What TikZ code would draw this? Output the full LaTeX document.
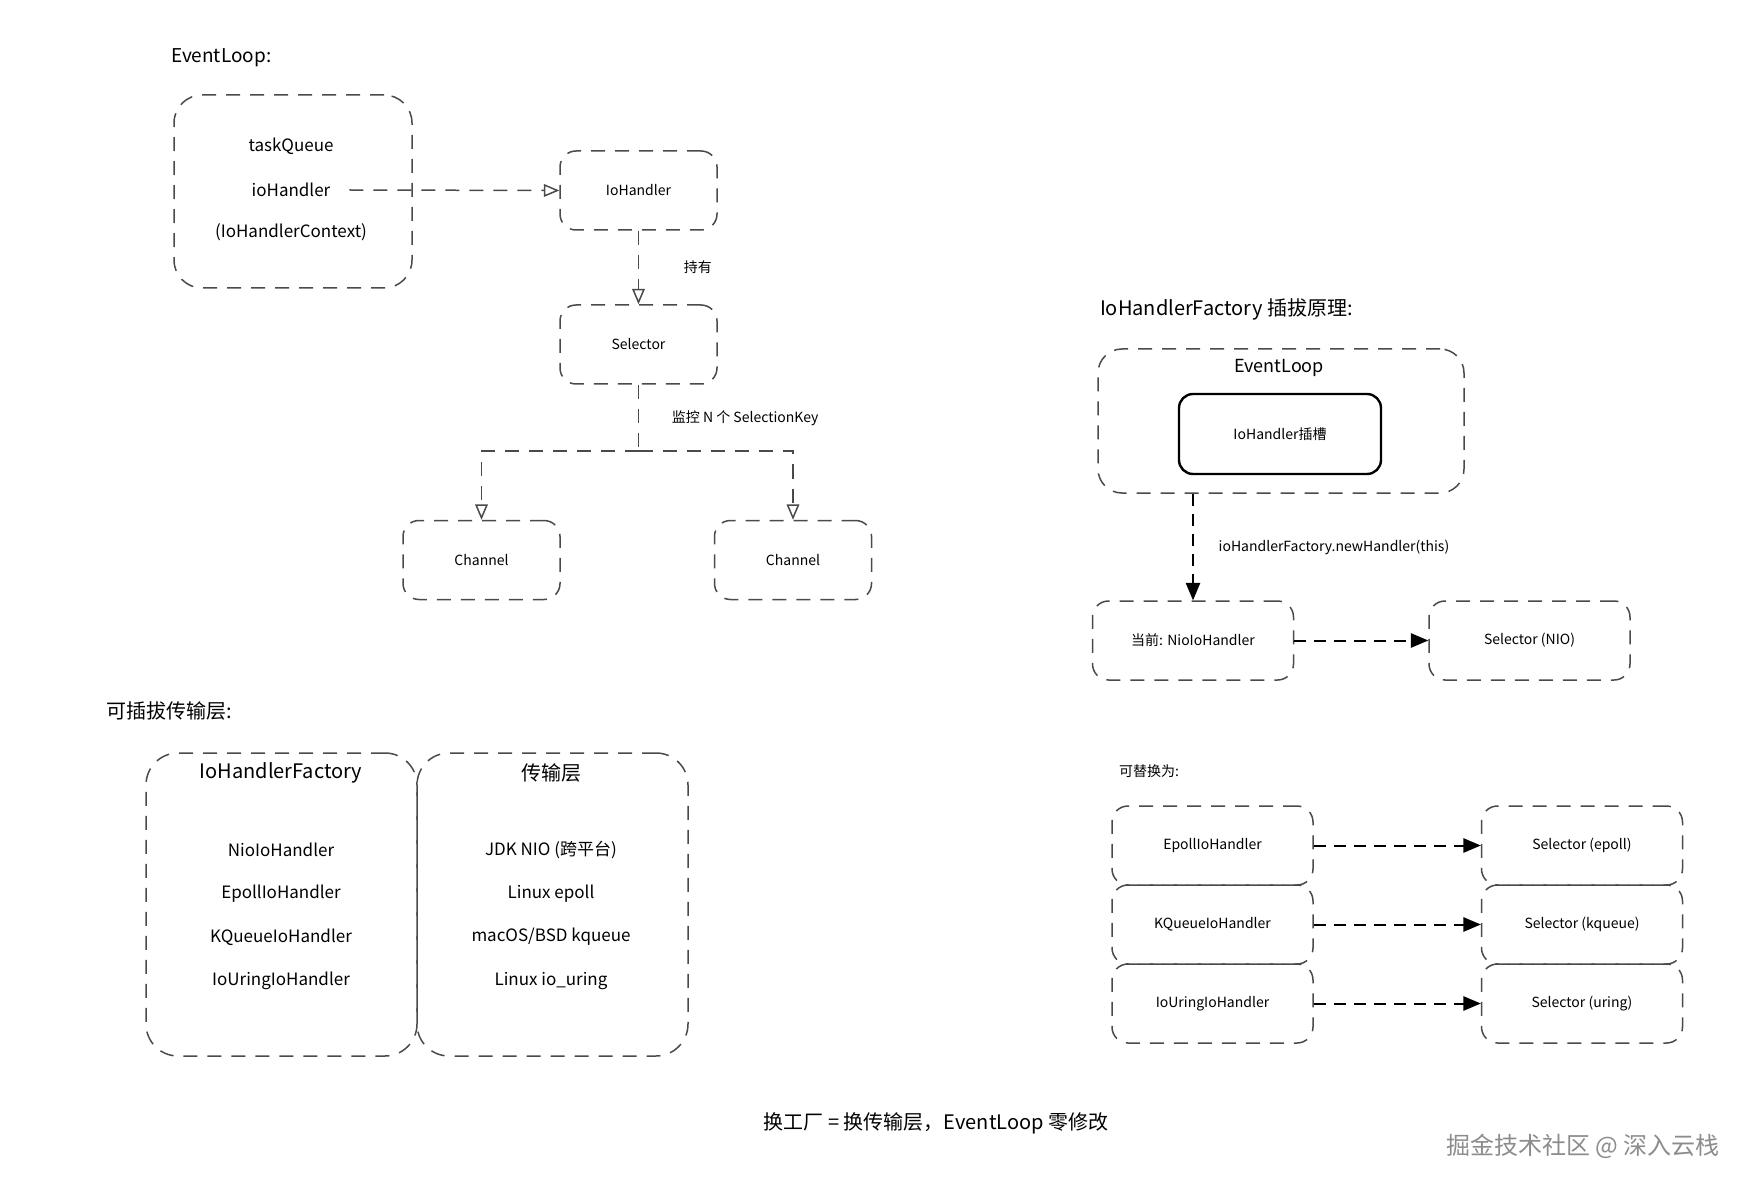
\documentclass[tikz,border=0pt]{standalone}
\usepackage{fontspec}
\setmainfont{Noto Sans CJK SC}
\usepackage{tikz}
\usetikzlibrary{arrows,shapes}
\usetikzlibrary{calc}
\definecolor{pencil}{HTML}{4A4A4A}
\definecolor{watermark}{HTML}{8C8C8C}
\tikzstyle{sketchbox}=[draw=pencil,line width=0.75pt,dash pattern=on 7pt off 5pt,rounded corners=8pt,inner sep=0pt]
\tikzstyle{smallbox}=[sketchbox,minimum width=78.5pt,minimum height=39.5pt,font=\fontsize{7}{8}\selectfont]
\tikzstyle{rowbox}=[sketchbox,minimum width=100.5pt,minimum height=39.5pt,font=\fontsize{7}{8}\selectfont]
\tikzstyle{slotbox}=[draw=black,line width=1.2pt,rounded corners=7pt,minimum width=101pt,minimum height=40pt,font=\fontsize{7}{8}\selectfont]
\tikzstyle{bigbox}=[sketchbox,rounded corners=16pt,minimum width=135.5pt,minimum height=151.5pt]
\tikzstyle{title}=[anchor=west,font=\fontsize{10}{12}\selectfont]
\tikzstyle{item}=[font=\fontsize{8.5}{10}\selectfont]
\tikzstyle{edgelabel}=[font=\fontsize{7}{8}\selectfont]
\tikzstyle{greyedge}=[draw=pencil,line width=0.75pt,dash pattern=on 7pt off 5pt]
\tikzstyle{greyarrow}=[greyedge,-open triangle 45]
\tikzstyle{blackarrow}=[draw=black,line width=1pt,dash pattern=on 6pt off 4pt,-triangle 45]

\begin{document}
\begin{tikzpicture}[x=0.5pt,y=-0.5pt]
    \useasboundingbox[fill=white] (0,0) rectangle (1756,1192);

    % EventLoop holds an IoHandler
    \node[title,font=\fontsize{9.5}{11}\selectfont] (looptitle) at (164,58) {EventLoop:};
    \node[sketchbox,rounded corners=14pt,minimum width=119pt,minimum height=96.5pt] (loop) at (293,191.5) {};
    \foreach \pos/ \name/ \txt in {{(291,146)/tq/taskQueue}, {(291,190)/ioh/ioHandler}, {(291,232)/ctx/{(IoHandlerContext)}}}
        \node[item] (\name) at \pos {\txt};

    \node[smallbox] (iohandler) at (638.5,190.5) {IoHandler};
    \node[smallbox] (selector) at (638.5,344.5) {Selector};
    \foreach \pos/ \name in {{(481.5,560)/chanA},{(793,560)/chanB}}
        \node[smallbox] (\name) at \pos {Channel};

    \draw[greyarrow] ([xshift=6pt]ioh.east) -- (iohandler.west);
    \draw[greyarrow] (iohandler) -- node[edgelabel,right,xshift=19pt] {持有} (selector);
    \coordinate (split) at (638.5,451);
    \draw[greyedge] (selector) -- node[edgelabel,right,xshift=13pt] {监控 N 个 SelectionKey} (split);
    \foreach \dest in {chanA,chanB}
        \draw[greyarrow] (split) -| (\dest.north);

    % IoHandlerFactory plug-in principle
    \node[title] (slottitle) at (1093,309) {IoHandlerFactory 插拔原理:};
    \node[sketchbox,rounded corners=12pt,minimum width=183pt,minimum height=72pt] (slotloop) at (1281,421) {};
    \node[font=\fontsize{9}{10}\selectfont] (slotname) at (1279,368) {EventLoop};
    \node[slotbox] (slot) at (1280,434) {IoHandler插槽};
    \node[rowbox] (nio) at (1193,640.5) {当前: NioIoHandler};
    \node[rowbox] (selnio) at (1529.5,640.5) {Selector (NIO)};
    \draw[blackarrow] (slotloop.south -| nio.north) -- node[edgelabel,right,xshift=9pt] {ioHandlerFactory.newHandler(this)} (nio.north);
    \draw[blackarrow] (nio) -- (selnio);

    \node[edgelabel,anchor=west] (swaptitle) at (1112,771) {可替换为:};
    \foreach \y/ \src/ \dst/ \srctxt/ \dsttxt in {845.5/epoll/selepoll/EpollIoHandler/{Selector (epoll)}, 924.5/kqueue/selkqueue/KQueueIoHandler/{Selector (kqueue)}, 1003.5/uring/seluring/IoUringIoHandler/{Selector (uring)}}
    {
        \node[rowbox] (\src) at (1212.5,\y) {\srctxt};
        \node[rowbox] (\dst) at (1582,\y) {\dsttxt};
        \draw[blackarrow] (\src) -- (\dst);
    }

    % pluggable transport layer
    \node[title] (plugtitle) at (99,711) {可插拔传输层:};
    \node[bigbox] (factory) at (281.5,904.5) {};
    \node[bigbox] (transport) at (552.5,904.5) {};
    \node[font=\fontsize{10}{12}\selectfont] (factoryname) at (281,773) {IoHandlerFactory};
    \node[font=\fontsize{10}{12}\selectfont] (transportname) at (551,773) {传输层};
    \foreach \i/ \y/ \lefttxt/ \righttxt in {1/850/NioIoHandler/{JDK NIO (跨平台)}, 2/894/EpollIoHandler/{Linux epoll}, 3/937/KQueueIoHandler/{macOS/BSD kqueue}, 4/981/IoUringIoHandler/{Linux io\_uring}}
    {
        \node[item] (fac\i) at (281,\y) {\lefttxt};
        \node[item] (tra\i) at (551,\y) {\righttxt};
    }

    \node[font=\fontsize{10}{12}\selectfont] (summary) at (936,1123) {换工厂 = 换传输层，EventLoop 零修改};
    \node[anchor=west,text=watermark,font=\fontsize{12}{14}\selectfont] (mark) at (1439,1146) {掘金技术社区 @ 深入云栈};
\end{tikzpicture}
\end{document}
